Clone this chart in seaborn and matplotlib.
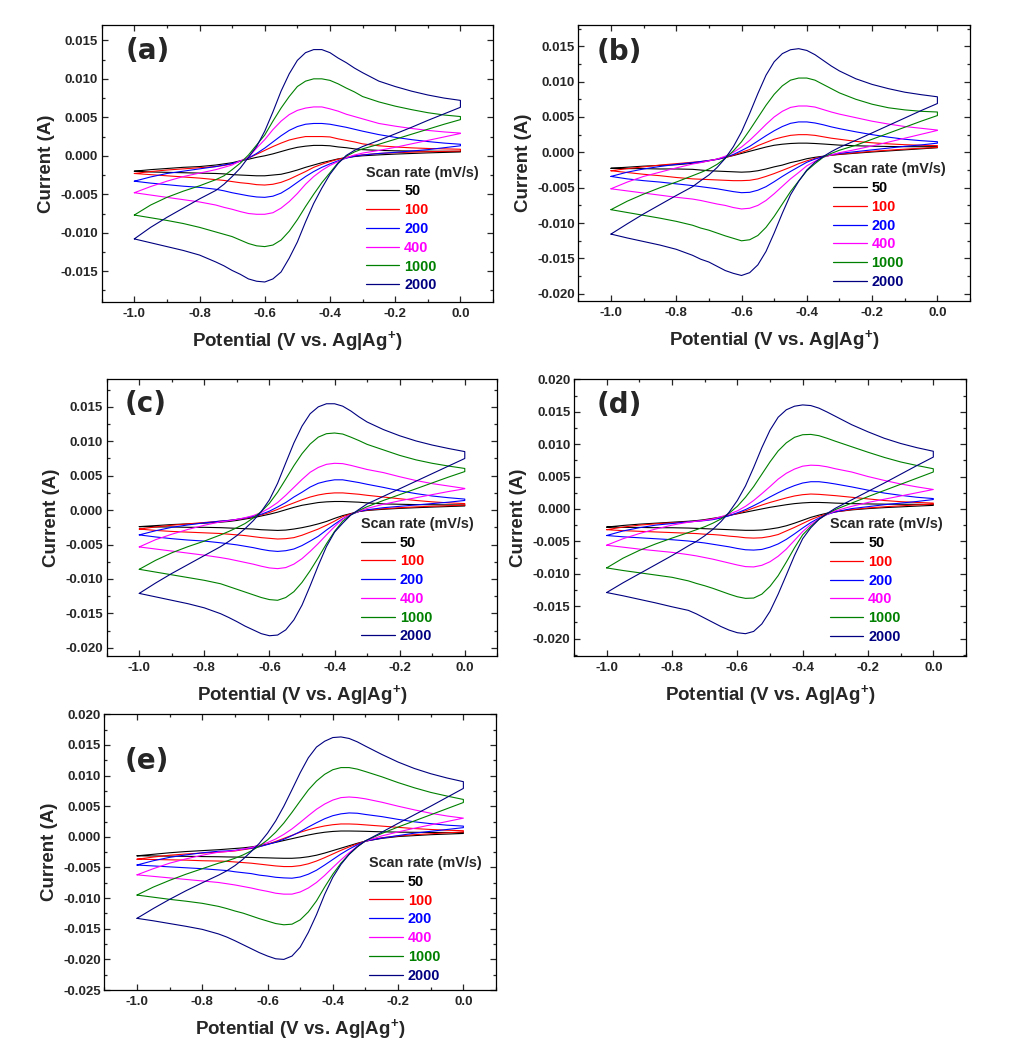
import matplotlib
matplotlib.use("Agg")
import matplotlib.pyplot as plt
import seaborn as sns
import pandas as pd
from matplotlib.ticker import MultipleLocator, FormatStrFormatter, FuncFormatter
from matplotlib.lines import Line2D

# ---------------- data (currents in mA) ----------------
POTENTIAL = [-1.00, -0.95, -0.90, -0.85, -0.80, -0.75, -0.725, -0.70, -0.675, -0.65,
             -0.625, -0.60, -0.575, -0.55, -0.525, -0.50, -0.475, -0.45, -0.425, -0.40,
             -0.375, -0.35, -0.325, -0.30, -0.25, -0.20, -0.15, -0.10, -0.05, 0.00]
SCAN_RATES = ["50", "100", "200", "400", "1000", "2000"]
COLORS = ["#000000", "#FF0000", "#0000FF", "#FF00FF", "#008000", "#000080"]
PANEL_LABELS = ["(a)", "(b)", "(c)", "(d)", "(e)"]

# forward (anodic, upper) branches, listed from -1.0 V to 0.0 V
A_FWD = [
    [-2.0, -1.8, -1.65, -1.5, -1.4, -1.2, -1.05, -0.9, -0.65, -0.45, -0.2, 0.0, 0.25, 0.55, 0.85, 1.1, 1.25, 1.35, 1.35, 1.3, 1.15, 1.05, 0.9, 0.8, 0.7, 0.65, 0.62, 0.6, 0.58, 0.57],
    [-2.3, -2.05, -1.85, -1.7, -1.55, -1.4, -1.25, -1.05, -0.7, -0.3, 0.2, 0.7, 1.2, 1.65, 2.05, 2.3, 2.5, 2.5, 2.5, 2.45, 2.2, 2.0, 1.8, 1.55, 1.3, 1.15, 1.03, 0.95, 0.9, 0.85],
    [-3.3, -2.75, -2.3, -2.0, -1.7, -1.4, -1.2, -1.0, -0.7, -0.3, 0.3, 1.0, 1.8, 2.6, 3.3, 3.8, 4.1, 4.2, 4.2, 4.1, 3.9, 3.7, 3.45, 3.2, 2.75, 2.4, 2.1, 1.85, 1.65, 1.5],
    [-4.8, -4.0, -3.3, -2.7, -2.25, -1.8, -1.5, -1.2, -0.65, -0.2, 1.0, 2.1, 3.4, 4.5, 5.35, 5.9, 6.2, 6.35, 6.35, 6.1, 5.8, 5.4, 5.1, 4.8, 4.2, 3.85, 3.55, 3.3, 3.1, 2.95],
    [-7.7, -6.4, -5.4, -4.6, -3.9, -3.1, -2.6, -1.8, -0.95, 0.1, 1.4, 2.7, 4.5, 6.2, 7.7, 9.0, 9.7, 10.0, 10.0, 9.8, 9.35, 8.8, 8.3, 7.7, 7.0, 6.45, 6.0, 5.6, 5.3, 5.1],
    [-10.8, -9.3, -8.0, -6.8, -5.6, -4.5, -3.7, -2.7, -1.6, -0.2, 1.2, 3.2, 5.7, 8.4, 10.65, 12.4, 13.4, 13.8, 13.8, 13.4, 12.7, 12.1, 11.4, 10.8, 9.7, 9.0, 8.4, 7.9, 7.5, 7.2],
]
# reverse (cathodic, lower) branches, also listed from -1.0 V to 0.0 V
A_REV = [
    [-2.0, -2.1, -2.15, -2.2, -2.25, -2.3, -2.35, -2.45, -2.5, -2.55, -2.6, -2.6, -2.5, -2.4, -2.15, -1.85, -1.5, -1.2, -0.9, -0.65, -0.4, -0.25, -0.1, 0.0, 0.12, 0.22, 0.3, 0.38, 0.44, 0.5],
    [-2.3, -2.45, -2.6, -2.75, -2.9, -3.1, -3.2, -3.35, -3.5, -3.6, -3.75, -3.8, -3.7, -3.45, -3.05, -2.55, -2.05, -1.5, -1.1, -0.75, -0.45, -0.2, 0.0, 0.12, 0.3, 0.4, 0.47, 0.53, 0.58, 0.62],
    [-3.3, -3.55, -3.75, -3.95, -4.1, -4.35, -4.55, -4.8, -5.0, -5.2, -5.35, -5.4, -5.25, -4.85, -4.2, -3.45, -2.7, -2.05, -1.5, -1.05, -0.65, -0.3, -0.05, 0.1, 0.3, 0.45, 0.62, 0.8, 1.05, 1.3],
    [-4.8, -5.1, -5.4, -5.7, -6.0, -6.4, -6.7, -6.95, -7.25, -7.5, -7.6, -7.6, -7.4, -6.8, -5.95, -4.9, -3.7, -2.7, -1.9, -1.25, -0.75, -0.25, 0.1, 0.35, 0.7, 1.1, 1.55, 2.0, 2.45, 2.9],
    [-7.7, -8.05, -8.4, -8.8, -9.3, -9.9, -10.2, -10.5, -10.95, -11.4, -11.7, -11.8, -11.6, -10.95, -9.8, -8.3, -6.6, -5.0, -3.5, -2.2, -0.9, -0.05, 0.5, 0.9, 1.5, 2.15, 2.8, 3.45, 4.1, 4.7],
    [-10.8, -11.3, -11.8, -12.3, -12.9, -13.8, -14.3, -14.9, -15.4, -16.0, -16.3, -16.4, -16.0, -15.1, -13.3, -11.2, -8.6, -6.2, -4.2, -2.4, -1.0, 0.05, 0.7, 1.2, 2.0, 2.85, 3.7, 4.6, 5.45, 6.3],
]

B_FWD = [
    [-2.25, -2.1, -1.95, -1.85, -1.75, -1.55, -1.4, -1.2, -0.95, -0.7, -0.45, -0.15, 0.15, 0.45, 0.75, 1.0, 1.15, 1.25, 1.3, 1.3, 1.25, 1.18, 1.1, 1.02, 0.93, 0.87, 0.83, 0.8, 0.8, 0.8],
    [-2.6, -2.3, -2.05, -1.8, -1.6, -1.4, -1.3, -1.15, -1.0, -0.75, -0.4, 0.0, 0.4, 0.95, 1.4, 1.85, 2.15, 2.4, 2.5, 2.5, 2.4, 2.2, 2.0, 1.85, 1.55, 1.35, 1.2, 1.08, 1.0, 0.95],
    [-3.4, -2.8, -2.35, -2.0, -1.7, -1.45, -1.3, -1.15, -1.0, -0.7, -0.3, 0.25, 0.85, 1.6, 2.35, 3.05, 3.65, 4.1, 4.3, 4.3, 4.15, 3.9, 3.6, 3.35, 2.9, 2.5, 2.15, 1.85, 1.65, 1.5],
    [-5.15, -4.2, -3.4, -2.8, -2.2, -1.65, -1.45, -1.2, -0.95, -0.55, 0.0, 0.75, 1.7, 2.8, 3.95, 5.0, 5.8, 6.35, 6.55, 6.55, 6.4, 6.05, 5.7, 5.4, 4.9, 4.4, 4.0, 3.65, 3.4, 3.15],
    [-8.1, -6.9, -5.9, -5.0, -4.2, -3.3, -2.85, -2.35, -1.7, -0.85, 0.2, 1.5, 3.15, 4.9, 6.65, 8.2, 9.4, 10.2, 10.5, 10.5, 10.2, 9.6, 9.0, 8.4, 7.5, 6.8, 6.3, 6.0, 5.8, 5.7],
    [-11.55, -10.1, -8.7, -7.4, -6.1, -4.85, -4.0, -3.2, -2.15, -0.85, 0.8, 2.9, 5.5, 8.3, 10.9, 12.8, 13.95, 14.5, 14.65, 14.4, 13.8, 13.0, 12.2, 11.5, 10.4, 9.6, 9.0, 8.5, 8.15, 7.85],
]
B_REV = [
    [-2.25, -2.3, -2.3, -2.35, -2.35, -2.4, -2.5, -2.6, -2.65, -2.7, -2.75, -2.8, -2.75, -2.6, -2.35, -2.05, -1.8, -1.45, -1.2, -0.9, -0.7, -0.55, -0.4, -0.3, -0.12, 0.05, 0.2, 0.35, 0.5, 0.65],
    [-2.6, -2.85, -3.1, -3.3, -3.55, -3.75, -3.8, -3.85, -3.9, -3.95, -4.0, -4.0, -3.95, -3.75, -3.4, -3.0, -2.55, -2.1, -1.6, -1.2, -0.85, -0.6, -0.4, -0.25, -0.05, 0.15, 0.3, 0.45, 0.58, 0.7],
    [-3.4, -3.75, -4.0, -4.2, -4.45, -4.7, -4.85, -5.0, -5.15, -5.35, -5.55, -5.7, -5.65, -5.35, -4.85, -4.15, -3.4, -2.7, -2.05, -1.4, -0.95, -0.6, -0.35, -0.15, 0.1, 0.35, 0.6, 0.85, 1.05, 1.3],
    [-5.15, -5.45, -5.75, -6.05, -6.35, -6.6, -6.8, -7.05, -7.3, -7.5, -7.8, -8.0, -7.9, -7.5, -6.8, -5.85, -4.8, -3.75, -2.85, -1.9, -1.25, -0.7, -0.35, -0.05, 0.4, 0.9, 1.45, 2.0, 2.55, 3.1],
    [-8.1, -8.5, -8.9, -9.3, -9.75, -10.3, -10.7, -11.0, -11.4, -11.8, -12.15, -12.5, -12.35, -11.75, -10.6, -9.05, -7.3, -5.55, -4.05, -2.6, -1.6, -0.7, -0.15, 0.3, 1.0, 1.85, 2.7, 3.55, 4.4, 5.2],
    [-11.55, -12.1, -12.6, -13.1, -13.7, -14.55, -15.1, -15.5, -16.1, -16.7, -17.1, -17.4, -17.0, -15.9, -14.0, -11.4, -8.6, -6.0, -4.1, -2.5, -1.4, -0.6, 0.1, 0.7, 1.7, 2.75, 3.8, 4.85, 5.9, 6.9],
]

C_FWD = [
    [-2.4, -2.25, -2.1, -2.0, -1.9, -1.75, -1.65, -1.5, -1.3, -1.1, -0.85, -0.6, -0.3, 0.05, 0.4, 0.7, 0.9, 1.1, 1.2, 1.25, 1.25, 1.2, 1.15, 1.05, 0.9, 0.85, 0.8, 0.78, 0.76, 0.75],
    [-2.75, -2.45, -2.2, -2.0, -1.8, -1.6, -1.5, -1.35, -1.2, -0.95, -0.7, -0.35, 0.1, 0.6, 1.05, 1.5, 1.9, 2.2, 2.4, 2.5, 2.5, 2.4, 2.3, 2.15, 1.9, 1.65, 1.4, 1.2, 1.05, 0.95],
    [-3.6, -3.0, -2.5, -2.15, -1.85, -1.6, -1.5, -1.35, -1.15, -0.9, -0.6, -0.15, 0.45, 1.1, 1.9, 2.6, 3.35, 3.9, 4.2, 4.4, 4.4, 4.2, 4.0, 3.75, 3.3, 2.8, 2.4, 2.05, 1.8, 1.6],
    [-5.35, -4.3, -3.5, -2.8, -2.2, -1.7, -1.55, -1.35, -1.1, -0.8, -0.35, 0.3, 1.1, 2.15, 3.3, 4.45, 5.5, 6.2, 6.65, 6.8, 6.75, 6.5, 6.2, 5.9, 5.45, 4.85, 4.3, 3.85, 3.5, 3.15],
    [-8.6, -7.3, -6.2, -5.3, -4.5, -3.6, -3.1, -2.55, -1.95, -1.15, -0.2, 1.0, 2.6, 4.5, 6.45, 8.2, 9.6, 10.6, 11.1, 11.2, 11.05, 10.6, 10.1, 9.55, 8.75, 7.95, 7.3, 6.8, 6.4, 6.05],
    [-12.1, -10.6, -9.2, -7.9, -6.6, -5.3, -4.55, -3.7, -2.7, -1.55, -0.2, 1.5, 3.9, 6.85, 9.75, 12.2, 14.0, 15.0, 15.45, 15.45, 15.1, 14.4, 13.55, 12.8, 11.7, 10.8, 10.05, 9.45, 8.95, 8.5],
]
C_REV = [
    [-2.4, -2.45, -2.45, -2.5, -2.5, -2.55, -2.6, -2.65, -2.7, -2.75, -2.85, -2.9, -2.95, -2.9, -2.75, -2.55, -2.3, -2.0, -1.65, -1.2, -0.8, -0.5, -0.2, -0.05, 0.12, 0.25, 0.35, 0.44, 0.52, 0.6],
    [-2.75, -2.95, -3.1, -3.2, -3.3, -3.4, -3.5, -3.6, -3.7, -3.85, -4.0, -4.1, -4.2, -4.15, -4.0, -3.65, -3.2, -2.75, -2.2, -1.6, -0.95, -0.55, -0.2, 0.0, 0.2, 0.35, 0.47, 0.56, 0.64, 0.72],
    [-3.6, -3.9, -4.15, -4.35, -4.5, -4.75, -4.9, -5.05, -5.25, -5.45, -5.7, -5.9, -6.0, -5.9, -5.65, -5.15, -4.5, -3.8, -2.9, -2.05, -1.25, -0.65, -0.2, 0.05, 0.35, 0.55, 0.75, 0.95, 1.15, 1.4],
    [-5.35, -5.65, -5.95, -6.25, -6.55, -6.9, -7.1, -7.35, -7.6, -7.85, -8.15, -8.4, -8.5, -8.35, -7.85, -7.05, -6.0, -4.85, -3.6, -2.4, -1.3, -0.65, -0.15, 0.25, 0.85, 1.35, 1.8, 2.25, 2.7, 3.1],
    [-8.6, -9.0, -9.4, -9.8, -10.2, -10.7, -11.1, -11.5, -11.9, -12.3, -12.7, -13.0, -13.1, -12.7, -11.85, -10.5, -8.8, -6.9, -4.9, -3.1, -1.6, -0.7, -0.05, 0.5, 1.4, 2.25, 3.1, 3.95, 4.8, 5.6],
    [-12.1, -12.6, -13.1, -13.6, -14.2, -15.05, -15.6, -16.2, -16.85, -17.4, -17.95, -18.25, -18.15, -17.4, -15.95, -13.8, -11.0, -8.05, -5.3, -3.2, -1.9, -0.7, 0.1, 0.9, 2.0, 3.1, 4.2, 5.3, 6.4, 7.5],
]

D_FWD = [
    [-2.8, -2.55, -2.35, -2.2, -2.05, -1.9, -1.8, -1.65, -1.45, -1.25, -1.0, -0.75, -0.5, -0.25, 0.0, 0.25, 0.45, 0.65, 0.82, 0.93, 1.0, 1.0, 0.96, 0.9, 0.82, 0.77, 0.74, 0.72, 0.71, 0.7],
    [-3.2, -2.8, -2.5, -2.3, -2.15, -2.0, -1.9, -1.75, -1.55, -1.3, -1.0, -0.7, -0.3, 0.15, 0.6, 1.0, 1.35, 1.7, 2.0, 2.2, 2.3, 2.25, 2.15, 2.05, 1.8, 1.55, 1.3, 1.12, 1.0, 0.9],
    [-4.1, -3.4, -2.9, -2.5, -2.25, -2.0, -1.9, -1.8, -1.65, -1.4, -1.05, -0.6, -0.1, 0.5, 1.15, 1.85, 2.5, 3.1, 3.6, 4.0, 4.2, 4.2, 4.05, 3.85, 3.4, 2.9, 2.45, 2.1, 1.8, 1.6],
    [-5.6, -4.6, -3.8, -3.1, -2.5, -2.05, -1.9, -1.75, -1.55, -1.2, -0.8, -0.3, 0.4, 1.3, 2.35, 3.45, 4.6, 5.5, 6.15, 6.6, 6.75, 6.7, 6.5, 6.2, 5.7, 5.0, 4.4, 3.85, 3.4, 3.0],
    [-9.1, -7.6, -6.4, -5.4, -4.5, -3.65, -3.2, -2.75, -2.2, -1.55, -0.65, 0.4, 1.8, 3.45, 5.35, 7.25, 8.95, 10.2, 11.05, 11.45, 11.5, 11.3, 10.9, 10.45, 9.6, 8.75, 7.95, 7.25, 6.7, 6.2],
    [-12.9, -11.4, -10.0, -8.6, -7.2, -5.7, -5.0, -4.15, -3.15, -1.95, -0.5, 1.3, 3.55, 6.4, 9.45, 12.15, 14.15, 15.3, 15.85, 16.05, 15.95, 15.55, 14.95, 14.3, 13.0, 11.9, 10.9, 10.1, 9.45, 8.9],
]
D_REV = [
    [-2.8, -2.85, -2.85, -2.9, -2.9, -2.95, -3.0, -3.05, -3.1, -3.15, -3.2, -3.25, -3.3, -3.3, -3.25, -3.1, -2.9, -2.6, -2.2, -1.75, -1.3, -0.95, -0.65, -0.45, -0.15, 0.05, 0.2, 0.32, 0.44, 0.55],
    [-3.2, -3.35, -3.45, -3.55, -3.65, -3.75, -3.8, -3.9, -3.95, -4.05, -4.2, -4.3, -4.45, -4.5, -4.45, -4.25, -3.95, -3.4, -2.85, -2.25, -1.65, -1.15, -0.75, -0.45, -0.1, 0.15, 0.33, 0.48, 0.62, 0.75],
    [-4.1, -4.3, -4.45, -4.6, -4.75, -4.95, -5.1, -5.25, -5.45, -5.65, -5.85, -6.1, -6.3, -6.35, -6.25, -5.9, -5.4, -4.7, -3.85, -2.95, -2.1, -1.4, -0.85, -0.45, 0.05, 0.35, 0.65, 0.9, 1.15, 1.45],
    [-5.6, -5.9, -6.2, -6.45, -6.7, -7.05, -7.25, -7.5, -7.75, -8.05, -8.35, -8.65, -8.9, -8.95, -8.7, -8.15, -7.3, -6.2, -4.85, -3.5, -2.4, -1.55, -0.85, -0.3, 0.4, 1.0, 1.5, 2.0, 2.5, 3.0],
    [-9.1, -9.5, -9.85, -10.2, -10.55, -11.1, -11.5, -11.85, -12.25, -12.7, -13.15, -13.55, -13.8, -13.75, -13.15, -11.95, -10.3, -8.2, -6.0, -4.0, -2.7, -1.6, -0.75, -0.1, 0.9, 1.9, 2.85, 3.8, 4.75, 5.7],
    [-12.9, -13.4, -13.95, -14.5, -15.1, -15.65, -16.2, -16.85, -17.5, -18.15, -18.7, -19.1, -19.25, -18.9, -17.75, -15.8, -13.15, -10.2, -7.2, -4.6, -2.9, -1.6, -0.7, 0.1, 1.4, 2.7, 4.0, 5.35, 6.7, 8.0],
]

E_FWD = [
    [-3.1, -2.85, -2.6, -2.4, -2.25, -2.1, -2.0, -1.9, -1.8, -1.65, -1.45, -1.2, -0.9, -0.6, -0.3, 0.0, 0.3, 0.55, 0.75, 0.88, 0.95, 0.95, 0.93, 0.9, 0.82, 0.77, 0.74, 0.72, 0.71, 0.7],
    [-3.65, -3.3, -3.0, -2.8, -2.65, -2.5, -2.4, -2.3, -2.1, -1.9, -1.6, -1.2, -0.75, -0.25, 0.25, 0.75, 1.15, 1.5, 1.78, 1.98, 2.1, 2.1, 2.05, 1.95, 1.75, 1.55, 1.35, 1.2, 1.08, 1.0],
    [-4.6, -3.9, -3.35, -2.95, -2.6, -2.35, -2.3, -2.2, -2.0, -1.85, -1.6, -1.25, -0.85, -0.4, 0.2, 0.85, 1.6, 2.3, 2.95, 3.45, 3.75, 3.9, 3.85, 3.65, 3.3, 2.85, 2.45, 2.15, 1.9, 1.75],
    [-6.2, -5.2, -4.3, -3.6, -3.0, -2.5, -2.4, -2.25, -2.0, -1.75, -1.35, -0.95, -0.35, 0.4, 1.3, 2.35, 3.45, 4.5, 5.35, 6.0, 6.4, 6.5, 6.4, 6.2, 5.65, 5.0, 4.4, 3.85, 3.4, 3.05],
    [-9.5, -8.2, -7.1, -6.1, -5.2, -4.3, -3.95, -3.5, -2.95, -2.3, -1.5, -0.5, 0.75, 2.25, 4.0, 5.85, 7.65, 9.1, 10.2, 10.95, 11.3, 11.3, 11.05, 10.65, 9.8, 8.85, 8.0, 7.25, 6.65, 6.1],
    [-13.3, -11.7, -10.2, -8.8, -7.5, -6.25, -5.55, -4.7, -3.65, -2.4, -1.05, 0.6, 2.6, 5.0, 7.7, 10.45, 12.9, 14.65, 15.6, 16.2, 16.3, 16.05, 15.5, 14.8, 13.45, 12.2, 11.15, 10.3, 9.6, 9.0],
]
E_REV = [
    [-3.1, -3.12, -3.15, -3.18, -3.22, -3.25, -3.28, -3.3, -3.33, -3.36, -3.4, -3.43, -3.47, -3.5, -3.5, -3.42, -3.25, -3.0, -2.65, -2.25, -1.85, -1.45, -1.05, -0.7, -0.25, 0.05, 0.2, 0.35, 0.45, 0.55],
    [-3.65, -3.7, -3.75, -3.8, -3.9, -3.95, -4.0, -4.1, -4.2, -4.3, -4.45, -4.6, -4.75, -4.85, -4.85, -4.7, -4.4, -3.95, -3.4, -2.8, -2.2, -1.65, -1.15, -0.7, -0.15, 0.15, 0.35, 0.5, 0.65, 0.8],
    [-4.6, -4.75, -4.9, -5.05, -5.2, -5.4, -5.5, -5.7, -5.85, -6.0, -6.25, -6.4, -6.6, -6.7, -6.75, -6.55, -6.1, -5.45, -4.6, -3.7, -2.8, -2.0, -1.3, -0.7, -0.2, 0.2, 0.6, 0.9, 1.2, 1.5],
    [-6.2, -6.45, -6.7, -6.95, -7.2, -7.45, -7.65, -7.85, -8.1, -8.35, -8.65, -8.9, -9.2, -9.35, -9.35, -9.0, -8.35, -7.45, -6.3, -5.0, -3.75, -2.6, -1.55, -0.7, 0.15, 0.8, 1.4, 1.95, 2.5, 3.05],
    [-9.5, -9.85, -10.2, -10.5, -10.85, -11.35, -11.7, -12.1, -12.45, -12.9, -13.35, -13.75, -14.15, -14.35, -14.25, -13.55, -12.25, -10.45, -8.2, -6.1, -4.3, -2.85, -1.65, -0.65, 0.55, 1.6, 2.6, 3.6, 4.6, 5.6],
    [-13.3, -13.7, -14.15, -14.6, -15.1, -15.85, -16.35, -16.95, -17.6, -18.25, -18.9, -19.45, -19.9, -20.0, -19.45, -18.0, -15.6, -12.7, -9.4, -6.6, -4.5, -2.85, -1.6, -0.65, 0.75, 2.2, 3.6, 5.0, 6.45, 7.9],
]

FWD = [A_FWD, B_FWD, C_FWD, D_FWD, E_FWD]
REV = [A_REV, B_REV, C_REV, D_REV, E_REV]
YLIMS = [(-0.019, 0.017), (-0.021, 0.018), (-0.0212, 0.019), (-0.0227, 0.020), (-0.025, 0.020)]

# ---------------- layout ----------------
AX_RECTS = [
    [0.0996, 0.7121, 0.3833, 0.2641],
    [0.5664, 0.7131, 0.3837, 0.2631],
    [0.1045, 0.3746, 0.3826, 0.2638],
    [0.5622, 0.3746, 0.3839, 0.2638],
    [0.1022, 0.0562, 0.3836, 0.2629],
]
LABEL_POS = [(0.060, 0.955), (0.046, 0.952), (0.047, 0.962), (0.057, 0.958), (0.053, 0.882)]
LEG_POS = [(0.675, 0.492), (0.651, 0.502), (0.652, 0.503), (0.653, 0.501), (0.677, 0.486)]

sns.set_style("ticks")
FONT = ["Liberation Sans", "DejaVu Sans"]
plt.rcParams["font.family"] = FONT
plt.rcParams["font.weight"] = "bold"
plt.rcParams["axes.labelweight"] = "bold"
plt.rcParams["axes.unicode_minus"] = False
plt.rcParams["mathtext.default"] = "regular"


def yfmt(v, pos):
    if abs(v) < 1e-9:
        v = 0.0
    return "%.3f" % v


fig = plt.figure(figsize=(10.21, 10.49), dpi=100)
fig.patch.set_facecolor("white")

for p in range(5):
    rows = []
    for k, rate in enumerate(SCAN_RATES):
        xs = POTENTIAL + POTENTIAL[::-1]
        ys = FWD[p][k] + REV[p][k][::-1]
        for x, y in zip(xs, ys):
            rows.append({"E": x, "I": y * 1e-3, "rate": rate})
    df = pd.DataFrame(rows)

    ax = fig.add_axes(AX_RECTS[p])
    sns.lineplot(data=df, x="E", y="I", hue="rate", hue_order=SCAN_RATES,
                 palette=COLORS, sort=False, estimator=None, linewidth=0.8,
                 legend=False, ax=ax)

    ax.set_xlim(-1.1, 0.1)
    ax.set_ylim(*YLIMS[p])
    ax.xaxis.set_major_locator(MultipleLocator(0.2))
    ax.xaxis.set_minor_locator(MultipleLocator(0.1))
    ax.yaxis.set_major_locator(MultipleLocator(0.005))
    ax.yaxis.set_minor_locator(MultipleLocator(0.0025))
    ax.xaxis.set_major_formatter(FormatStrFormatter("%.1f"))
    ax.yaxis.set_major_formatter(FuncFormatter(yfmt))
    ax.tick_params(which="both", direction="in", top=True, right=True, width=0.9)
    ax.tick_params(which="major", length=4.5)
    ax.tick_params(which="minor", length=2.5)
    ax.tick_params(axis="y", pad=2.5, labelsize=9.5)
    ax.tick_params(axis="x", pad=4, labelsize=9.5)
    for lab in ax.get_xticklabels() + ax.get_yticklabels():
        lab.set_fontweight("bold")
    for s in ax.spines.values():
        s.set_linewidth(0.9)
        s.set_color("black")

    ax.set_xlabel("Potential (V vs. Ag|Ag$^{+}$)", fontsize=13.5, fontweight="bold", labelpad=7)
    ax.set_ylabel("Current (A)", fontsize=13.5, fontweight="bold", labelpad=4)

    ax.text(LABEL_POS[p][0], LABEL_POS[p][1], PANEL_LABELS[p], transform=ax.transAxes,
            ha="left", va="top", fontsize=20, fontweight="bold",
            family=["DejaVu Sans"])

    handles = [Line2D([], [], color=c, linewidth=0.9) for c in COLORS]
    leg = ax.legend(handles, SCAN_RATES, title="Scan rate (mV/s)",
                    loc="upper left", bbox_to_anchor=LEG_POS[p], frameon=False,
                    borderpad=0, borderaxespad=0, fontsize=10.4, title_fontsize=10.4,
                    handlelength=2.3, handletextpad=0.35, labelspacing=0.33,
                    labelcolor=COLORS, alignment="left")
    leg.get_title().set_fontweight("bold")
    for t in leg.get_texts():
        t.set_fontweight("bold")

fig.savefig("out.png", dpi=100, facecolor="white")
